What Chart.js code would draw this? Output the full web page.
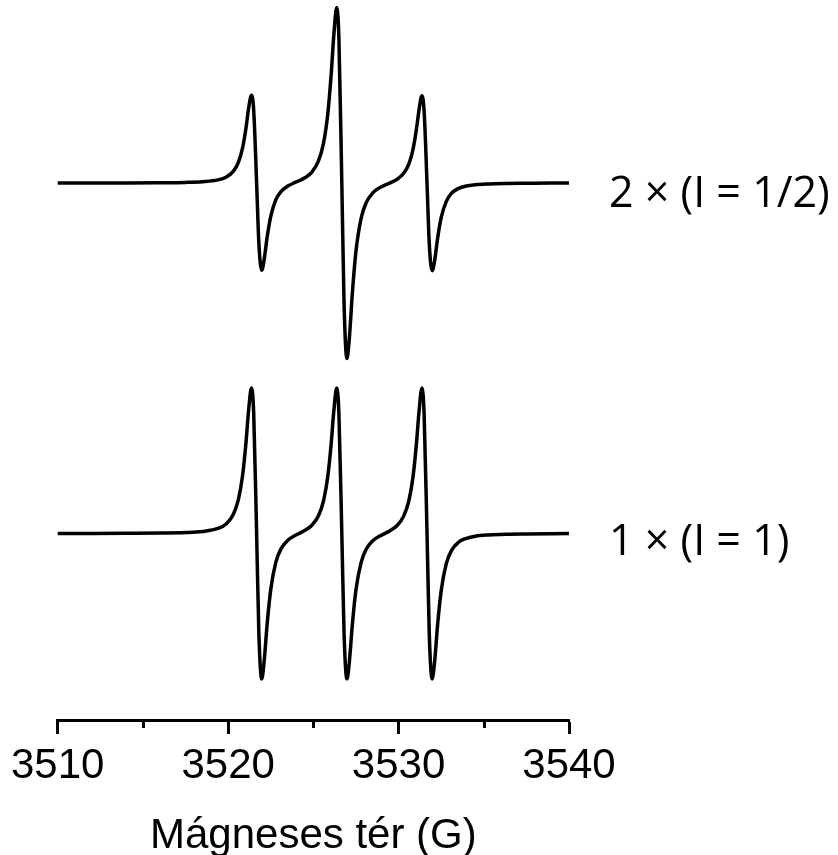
<!DOCTYPE html>
<html>
<head>
<meta charset="utf-8">
<title>EPR spektrum</title>
<script src="https://cdn.jsdelivr.net/npm/chart.js@4.4.1/dist/chart.umd.min.js"></script>
<style>
  html, body { margin: 0; padding: 0; background: #fff; overflow: hidden; }
</style>
</head>
<body>
<canvas id="eprChart" width="838" height="855"></canvas>
<script>
// magnetic field readings (G)
const fieldG = [3510, 3512, 3514, 3516, 3517.5, 3518.5, 3519.4, 3519.9, 3520.3, 3520.6,
  3520.85, 3521.05, 3521.2, 3521.37, 3521.5, 3521.67, 3521.8, 3521.97, 3522.1, 3522.3,
  3522.5, 3522.8, 3523.1, 3523.5, 3523.9, 3524.2, 3524.5, 3524.9, 3525.3, 3525.6,
  3525.85, 3526.05, 3526.2, 3526.37, 3526.5, 3526.67, 3526.8, 3526.97, 3527.1, 3527.3,
  3527.5, 3527.8, 3528.1, 3528.5, 3528.9, 3529.2, 3529.5, 3529.9, 3530.3, 3530.6,
  3530.85, 3531.05, 3531.2, 3531.37, 3531.5, 3531.67, 3531.8, 3531.97, 3532.1, 3532.3,
  3532.5, 3532.8, 3533.1, 3533.5, 3533.9, 3534.5, 3535.3, 3536.3, 3537.5, 3539, 3540];

// signal of the two spin systems (a.u., derivative spectra)
const twoHalfSpins = [0, 0.1, 0.1, 0.3, 0.6, 1.3, 3.1, 6.1, 11.6, 20.6,
  35.3, 55.2, 74.3, 87.5, 72.5, 0.6, -59.0, -87.0, -77.8, -52.7,
  -33.2, -16.6, -8.5, -3.0, 0.3, 2.5, 5.2, 10.6, 22.0, 40.0,
  69.5, 109.4, 147.3, 175.0, 143.8, 0, -119.3, -175.0, -157.0, -107.1,
  -68.1, -35.4, -19.6, -9.6, -4.6, -2.1, 0.1, 3.6, 9.7, 18.9,
  33.9, 53.9, 72.9, 87.0, 71.3, -0.6, -60.2, -87.5, -79.0, -54.0,
  -34.6, -18.3, -10.4, -5.5, -3.3, -1.7, -0.9, -0.5, -0.3, -0.1, -0.1];

const oneSpinOne = [0.1, 0.1, 0.2, 0.4, 0.9, 2.0, 5.0, 9.8, 19.0, 33.8,
  58.2, 91.2, 122.7, 145.0, 119.6, 0.6, -98.3, -145.0, -129.6, -88.1,
  -55.8, -28.6, -15.4, -6.8, -2.2, 0.4, 3.1, 8.0, 17.7, 32.8,
  57.3, 90.4, 122.0, 145.0, 119.1, 0, -98.8, -145.0, -130.0, -88.5,
  -56.2, -29.0, -15.7, -7.1, -2.5, 0.1, 2.8, 7.7, 17.3, 32.4,
  56.9, 90.0, 121.5, 145.0, 118.6, -0.6, -99.4, -145.0, -130.6, -89.2,
  -57.0, -30.0, -17.1, -9.0, -5.3, -2.7, -1.4, -0.7, -0.4, -0.2, -0.1];

const seriesLabels = ['2 × (I = 1/2)', '1 × (I = 1)'];
const majorTicks = [3510, 3520, 3530, 3540];
const minorTicks = [3515, 3525, 3535];
const axisTitle = 'Mágneses tér (G)';

const toPoints = (ys) => fieldG.map((g, i) => ({ x: g, y: ys[i] }));

// minor ticks are shorter than the major ones
const minorTickPlugin = {
  id: 'minorTicks',
  afterDraw(chart) {
    const { ctx, chartArea, scales } = chart;
    ctx.save();
    ctx.strokeStyle = '#000';
    ctx.lineWidth = 3;
    minorTicks.forEach((v) => {
      const x = Math.round(scales.x.getPixelForValue(v)) + 0.5;
      ctx.beginPath();
      ctx.moveTo(x, chartArea.bottom);
      ctx.lineTo(x, chartArea.bottom + 8);
      ctx.stroke();
    });
    ctx.restore();
  }
};

// series names at the right end of each trace
const traceLabelPlugin = {
  id: 'traceLabels',
  afterDraw(chart) {
    const { ctx, chartArea, scales } = chart;
    ctx.save();
    ctx.fillStyle = '#000';
    ctx.font = '43px "Open Sans", "Noto Sans", sans-serif';
    ctx.textAlign = 'left';
    ctx.textBaseline = 'middle';
    ctx.fillText(seriesLabels[0], chartArea.right + 40, scales.yTop.getPixelForValue(0) + 12);
    ctx.fillText(seriesLabels[1], chartArea.right + 40, scales.yBottom.getPixelForValue(0) + 9);
    ctx.restore();
  }
};

const axisFont = '"Liberation Sans", Arial, sans-serif';

const ctx = document.getElementById('eprChart').getContext('2d');
new Chart(ctx, {
  type: 'line',
  data: {
    datasets: [
      {
        label: seriesLabels[0],
        data: toPoints(twoHalfSpins),
        yAxisID: 'yTop',
        borderColor: '#000',
        borderWidth: 3.5,
        pointRadius: 0,
        cubicInterpolationMode: 'monotone',
        clip: false,
      },
      {
        label: seriesLabels[1],
        data: toPoints(oneSpinOne),
        yAxisID: 'yBottom',
        borderColor: '#000',
        borderWidth: 3.5,
        pointRadius: 0,
        cubicInterpolationMode: 'monotone',
        clip: false,
      },
    ],
  },
  options: {
    responsive: false,
    animation: false,
    events: [],
    layout: { padding: { left: 49, right: 269, top: 0, bottom: -2 } },
    plugins: { legend: { display: false }, tooltip: { enabled: false } },
    scales: {
      x: {
        type: 'linear',
        min: 3510,
        max: 3540,
        border: { display: true, color: '#000', width: 3 },
        grid: {
          drawOnChartArea: false,
          tickLength: 14,
          tickWidth: 3,
          tickColor: (c) => (c.tick && majorTicks.includes(c.tick.value) ? '#000' : 'rgba(0,0,0,0)'),
        },
        ticks: {
          stepSize: 5,
          autoSkip: false,
          maxRotation: 0,
          padding: 11,
          color: '#000',
          font: { family: axisFont, size: 42, lineHeight: 1.0 },
          callback: (v) => (majorTicks.includes(v) ? String(v) : ''),
        },
        title: {
          display: true,
          text: axisTitle,
          color: '#000',
          padding: { top: 17, bottom: 0 },
          font: { family: axisFont, size: 42, lineHeight: 1.0 },
        },
      },
      yTop: { display: false, min: -535.5, max: 182.5 },
      yBottom: { display: false, min: -186, max: 532 },
    },
  },
  plugins: [minorTickPlugin, traceLabelPlugin],
});
</script>
</body>
</html>
